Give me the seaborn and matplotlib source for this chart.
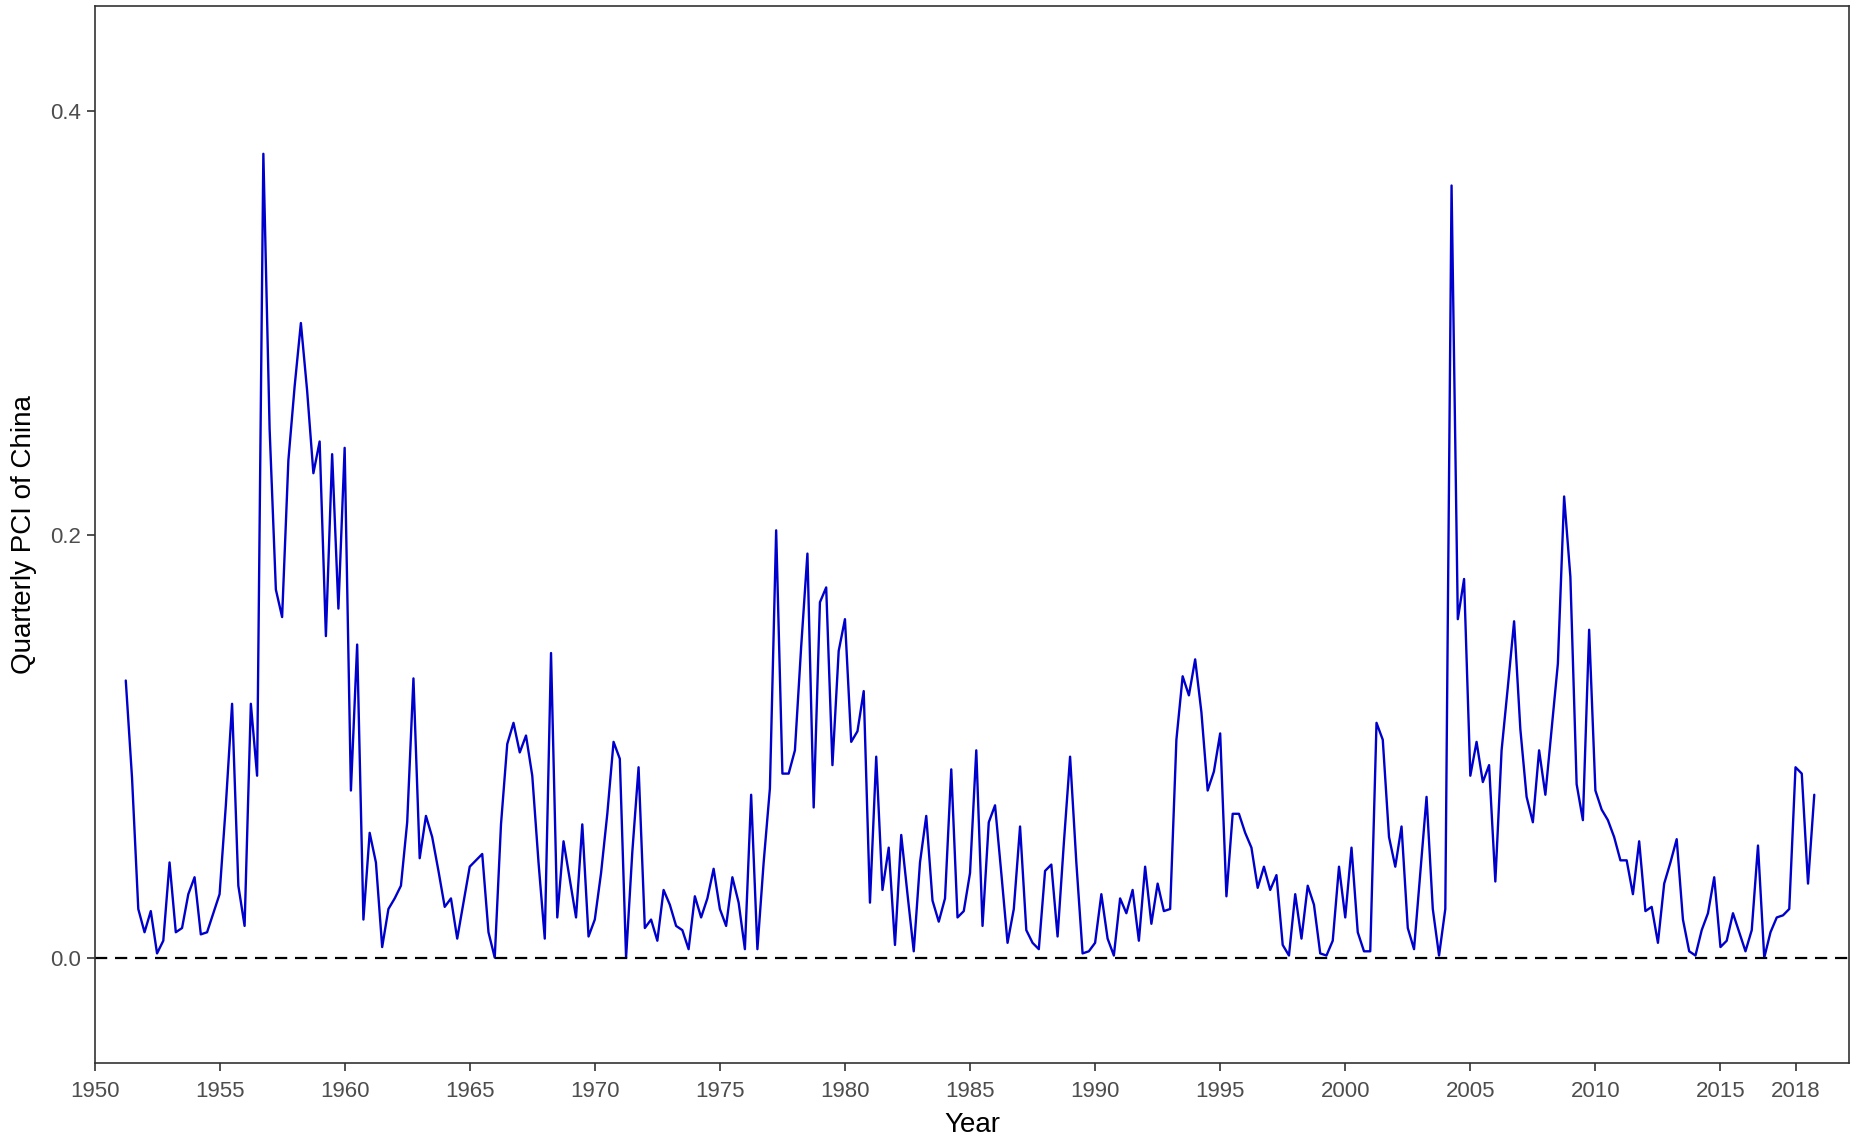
import numpy as np
import pandas as pd
import matplotlib
matplotlib.use("Agg")
import matplotlib.pyplot as plt
import seaborn as sns

# Quarterly PCI of China
pci_1951_1959 = [0.131, 0.085, 0.023,
                 0.012, 0.022, 0.002, 0.008,
                 0.045, 0.012, 0.014, 0.030,
                 0.038, 0.011, 0.012, 0.021,
                 0.030, 0.072, 0.120, 0.034,
                 0.015, 0.120, 0.086, 0.380,
                 0.250, 0.174, 0.161, 0.235,
                 0.270, 0.300, 0.268, 0.229,
                 0.244, 0.152, 0.238, 0.165]
pci_1960s = [0.241, 0.079, 0.148, 0.018,
             0.059, 0.045, 0.005, 0.023,
             0.028, 0.034, 0.064, 0.132,
             0.047, 0.067, 0.057, 0.041,
             0.024, 0.028, 0.009, 0.026,
             0.043, 0.046, 0.049, 0.012,
             0.000, 0.063, 0.101, 0.111,
             0.097, 0.105, 0.086, 0.045,
             0.009, 0.144, 0.019, 0.055,
             0.037, 0.019, 0.063, 0.010]
pci_1970s = [0.018, 0.040, 0.068, 0.102,
             0.094, 0.000, 0.050, 0.090,
             0.014, 0.018, 0.008, 0.032,
             0.025, 0.015, 0.013, 0.004,
             0.029, 0.019, 0.028, 0.042,
             0.023, 0.015, 0.038, 0.026,
             0.004, 0.077, 0.004, 0.045,
             0.080, 0.202, 0.087, 0.087,
             0.098, 0.147, 0.191, 0.071,
             0.168, 0.175, 0.091, 0.145]
pci_1980s = [0.160, 0.102, 0.107, 0.126,
             0.026, 0.095, 0.032, 0.052,
             0.006, 0.058, 0.030, 0.003,
             0.045, 0.067, 0.027, 0.017,
             0.028, 0.089, 0.019, 0.022,
             0.040, 0.098, 0.015, 0.064,
             0.072, 0.040, 0.007, 0.023,
             0.062, 0.013, 0.007, 0.004,
             0.041, 0.044, 0.010, 0.054,
             0.095, 0.045, 0.002, 0.003]
pci_1990s = [0.007, 0.030, 0.009, 0.001,
             0.028, 0.021, 0.032, 0.008,
             0.043, 0.016, 0.035, 0.022,
             0.023, 0.103, 0.133, 0.124,
             0.141, 0.116, 0.079, 0.088,
             0.106, 0.029, 0.068, 0.068,
             0.059, 0.052, 0.033, 0.043,
             0.032, 0.039, 0.006, 0.001,
             0.030, 0.009, 0.034, 0.025,
             0.002, 0.001, 0.008, 0.043]
pci_2000s = [0.019, 0.052, 0.012, 0.003,
             0.003, 0.111, 0.103, 0.057,
             0.043, 0.062, 0.014, 0.004,
             0.040, 0.076, 0.023, 0.001,
             0.023, 0.365, 0.160, 0.179,
             0.086, 0.102, 0.083, 0.091,
             0.036, 0.098, 0.128, 0.159,
             0.108, 0.076, 0.064, 0.098,
             0.077, 0.108, 0.139, 0.218,
             0.180, 0.082, 0.065, 0.155]
pci_2010s = [0.079, 0.070, 0.065, 0.057,
             0.046, 0.046, 0.030, 0.055,
             0.022, 0.024, 0.007, 0.035,
             0.045, 0.056, 0.018, 0.003,
             0.001, 0.013, 0.021, 0.038,
             0.005, 0.008, 0.021, 0.012,
             0.003, 0.013, 0.053, 0.000,
             0.012, 0.019, 0.020, 0.023,
             0.090, 0.087, 0.035, 0.077]

start_year = 1951.25  # first quarter shown (1951 Q2)
x_ticks = [1950, 1955, 1960, 1965, 1970, 1975, 1980, 1985, 1990,
           1995, 2000, 2005, 2010, 2015, 2018]
y_ticks = [0.0, 0.2, 0.4]
y_tick_labels = ["0.0", "0.2", "0.4"]

pci = np.array(pci_1951_1959 + pci_1960s + pci_1970s + pci_1980s +
               pci_1990s + pci_2000s + pci_2010s)
year = start_year + 0.25 * np.arange(len(pci))
df = pd.DataFrame({"Year": year, "PCI": pci})

sns.set_theme(style="white")
plt.rcParams["font.family"] = ["Liberation Sans", "DejaVu Sans"]

fig = plt.figure(figsize=(18.53, 11.41), dpi=100)
ax = fig.add_axes([0.051, 0.068, 0.947, 0.927])

sns.lineplot(data=df, x="Year", y="PCI", ax=ax, color="#0000CD",
             linewidth=1.7, estimator=None)
ax.axhline(0, color="black", linewidth=1.6, linestyle=(0, (5.5, 3.5)))

ax.set_xlim(1950, 2020.15)
ax.set_ylim(-0.05, 0.45)
ax.set_xticks(x_ticks)
ax.set_xticklabels([str(t) for t in x_ticks])
ax.set_yticks(y_ticks)
ax.set_yticklabels(y_tick_labels)

ax.tick_params(axis="both", which="major", length=6, width=1.2,
               color="#333333", labelsize=16, labelcolor="#4D4D4D",
               direction="out", bottom=True, left=True, pad=4)
ax.tick_params(axis="x", pad=7)
ax.set_xlabel("Year", fontsize=20, color="black", labelpad=7)
ax.set_ylabel("Quarterly PCI of China", fontsize=20, color="black", labelpad=9)

for sp in ax.spines.values():
    sp.set_visible(True)
    sp.set_color("#333333")
    sp.set_linewidth(1.2)

ax.grid(False)
fig.savefig("out.png", dpi=100, facecolor="white")
